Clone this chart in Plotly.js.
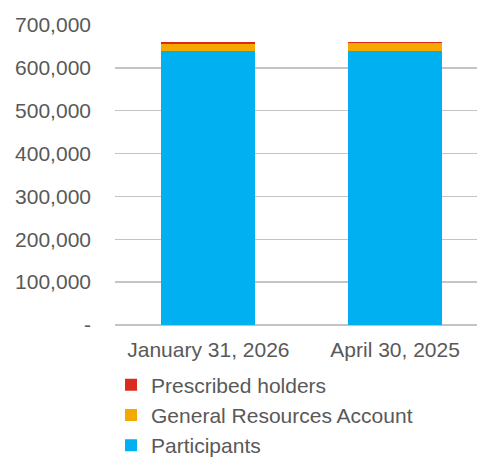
<!DOCTYPE html>
<html>
<head>
<meta charset="utf-8">
<script src="https://cdn.plot.ly/plotly-3.0.1.min.js"></script>
<style>html,body{margin:0;padding:0;background:#fff;}#chart{width:477px;height:457px;}</style>
</head>
<body>
<div id="chart"></div>
<script>
const categories = ["January 31, 2026", "April 30, 2025"];
const participants = [638400, 638400];
const generalResourcesAccount = [17300, 18700];
const prescribedHolders = [5000, 3800];
const yTickVals = [0, 100000, 200000, 300000, 400000, 500000, 600000, 700000];
const yTickText = ["-", "100,000", "200,000", "300,000", "400,000", "500,000", "600,000", "700,000"];

const font = {family: "Liberation Sans, Arial, sans-serif", size: 21, color: "#595959"};

const traces = [
  {type: "bar", name: "Participants", x: categories, y: participants,
   marker: {color: "#00B0F0"}, legendgroup: "a"},
  {type: "bar", name: "General Resources Account", x: categories, y: generalResourcesAccount,
   marker: {color: "#F5A800"}, legendgroup: "b"},
  {type: "bar", name: "Prescribed holders", x: categories, y: prescribedHolders,
   marker: {color: "#DD2A1E"}, legendgroup: "c"}
];

const layout = {
  width: 477, height: 457,
  margin: {l: 115, r: 0, t: 25, b: 132, pad: 0},
  paper_bgcolor: "#ffffff", plot_bgcolor: "#ffffff",
  font: font,
  barmode: "stack",
  bargap: 0.497,
  showlegend: true,
  legend: {
    orientation: "v", traceorder: "reversed",
    x: -0.011, xanchor: "left",
    yref: "container", y: 0.2024, yanchor: "top",
    font: font, tracegroupgap: 2, bgcolor: "rgba(0,0,0,0)"
  },
  xaxis: {
    type: "category", range: [-0.5, 1.4385], automargin: false,
    showgrid: false, zeroline: false, showline: false,
    ticks: "", tickfont: font, ticklabelstandoff: 10, fixedrange: true
  },
  yaxis: {
    range: [0, 700000], tickvals: yTickVals, ticktext: yTickText, automargin: false,
    showgrid: true, gridcolor: "#C4C4C4", gridwidth: 1.5,
    zeroline: true, zerolinecolor: "#C4C4C4", zerolinewidth: 1.5,
    showline: false, ticks: "", tickfont: font, ticklabelstandoff: 23,
    fixedrange: true
  }
};

Plotly.newPlot("chart", traces, layout, {displayModeBar: false, staticPlot: true});
</script>
</body>
</html>
